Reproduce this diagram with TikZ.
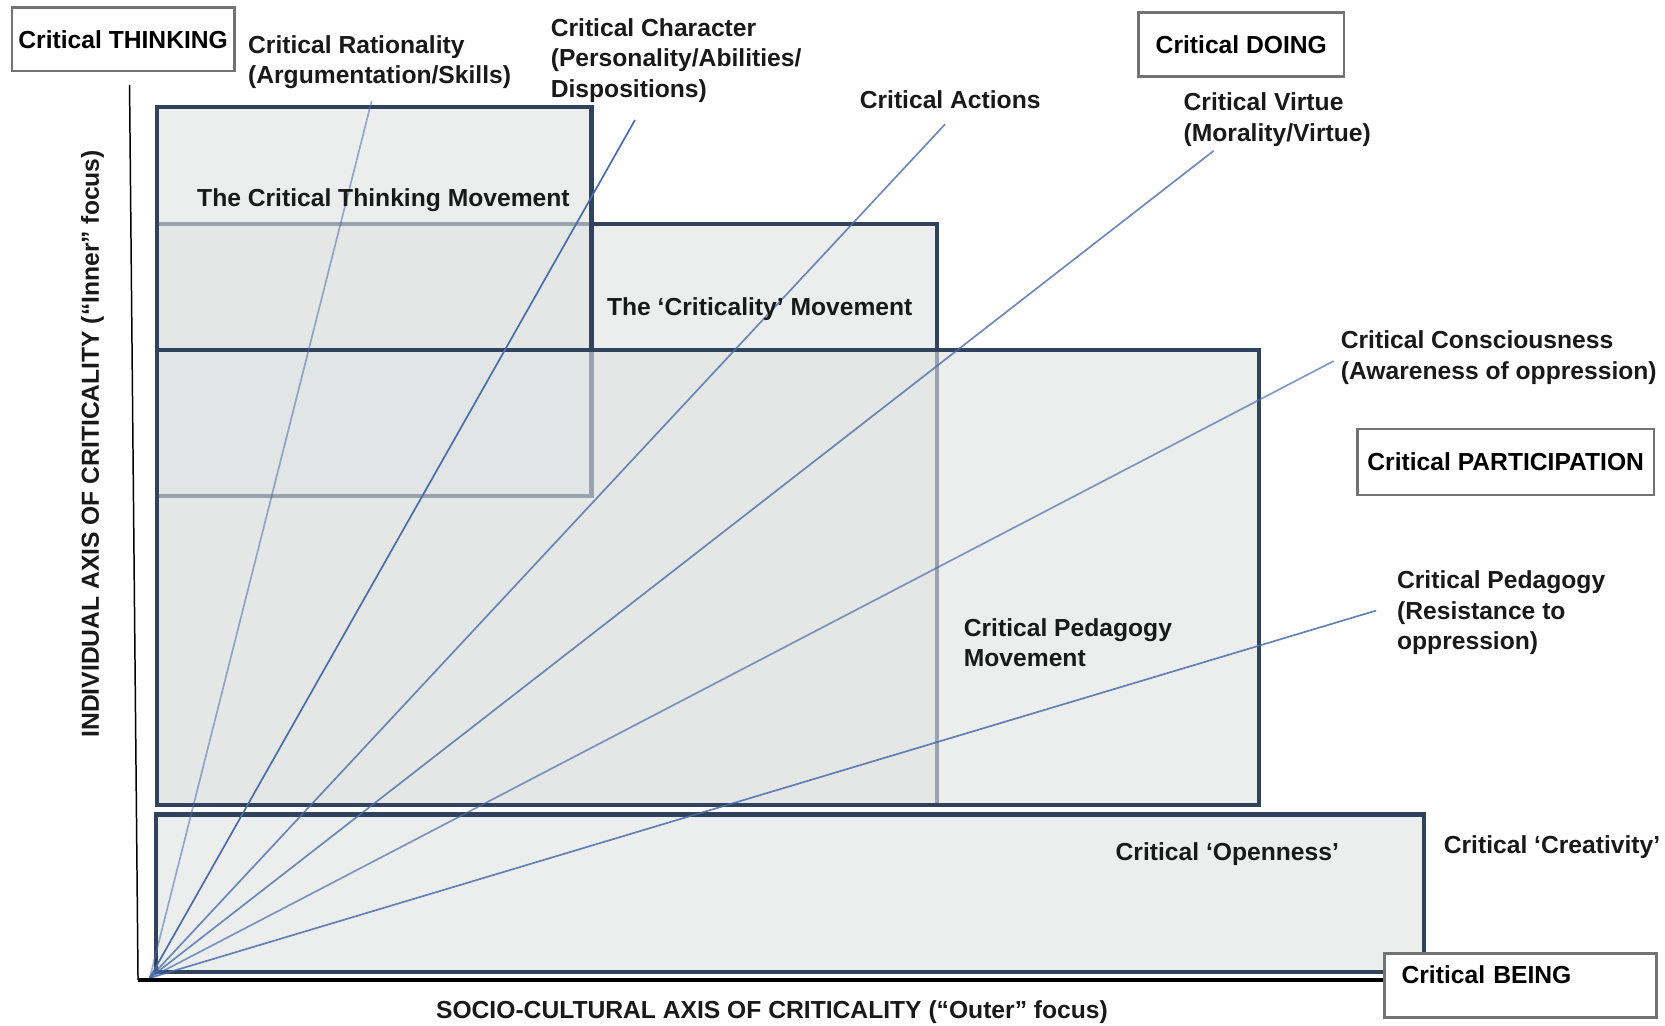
\documentclass[tikz,border=0pt]{standalone}
\usepackage{fontspec}
\setmainfont{Liberation Sans}
\definecolor{edgeblue}{RGB}{48,66,92}
\definecolor{boxfill}{RGB}{224,227,227}
\definecolor{rayblue}{RGB}{72,108,172}
\begin{document}
\begin{tikzpicture}[x=0.01cm, y=-0.01cm,
labeltext/.style={anchor=north west, inner sep=0pt, align=left, text=black!90, font=\fontsize{6.6}{8.1}\selectfont\bfseries},
cornerbox/.style={draw=black!55, fill=white, line width=0.7pt, minimum height=0.6cm, inner sep=0.06cm, font=\fontsize{6.6}{8.1}\selectfont\bfseries},
movement/.style={draw=edgeblue, line width=1.1pt, fill=boxfill, fill opacity=0.6},
ray/.style={rayblue, line width=0.45pt},
]
\useasboundingbox (0,0) rectangle (1568,966);
%Movements
\draw[movement] (148,211) rectangle (882,758);
\draw[movement] (148,101) rectangle (557,467);
\draw[movement] (148,330) rectangle (1186,758);
\draw[movement] (147,767) rectangle (1341,915);
%Rays
\coordinate (o) at (141,921);
\coordinate (ratend) at (350,95);
\coordinate (chaend) at (598,113);
\coordinate (actend) at (890,117);
\coordinate (virend) at (1143,142);
\coordinate (conend) at (1256,340);
\coordinate (pedend) at (1296,575);
\draw[ray, draw opacity=0.55] (o) -- (ratend);
\draw[ray] (o) -- (chaend);
\draw[ray, draw opacity=0.8] (o) -- (actend);
\draw[ray, draw opacity=0.8] (o) -- (virend);
\draw[ray, draw opacity=0.7] (o) -- (conend);
\draw[ray, draw opacity=0.85] (o) -- (pedend);
%Corner boxes
\node[cornerbox, minimum width=2.08cm] at (116,37) (thinking) {Critical THINKING};
\node[cornerbox, minimum width=1.93cm] at (1169,42) (doing) {Critical DOING};
\node[cornerbox, minimum width=2.79cm, minimum height=0.62cm] at (1418,435) (participation) {Critical PARTICIPATION};
\node[cornerbox, minimum width=2.56cm, text width=2.24cm, inner xsep=0.16cm, align=left, text depth=0.2cm] at (1432,928) (being) {Critical BEING};
%Axes
\coordinate (ytop) at (122,80);
\coordinate (corner) at (130,923);
\draw[black, line width=0.4pt] (ytop) -- (corner);
\draw[black, line width=1.2pt] (corner) -- (corner -| being.west);
%Labels
\node[labeltext] at (233,33) (rat) {Critical Rationality\\(Argumentation/Skills)};
\node[labeltext] at (518,17) (cha) {Critical Character\\(Personality/Abilities/\\Dispositions)};
\node[labeltext] at (809,85) (act) {Critical Actions};
\node[labeltext] at (1114,87) (vir) {Critical Virtue\\(Morality/Virtue)};
\node[labeltext] at (1262,311) (con) {Critical Consciousness\\(Awareness of oppression)};
\node[labeltext] at (1315,537) (ped) {Critical Pedagogy\\(Resistance to\\oppression)};
\node[labeltext] at (185,177) (ctm) {The Critical Thinking Movement};
\node[labeltext] at (571,280) (crm) {The ‘Criticality’ Movement};
\node[labeltext] at (907,582) (cpm) {Critical Pedagogy\\Movement};
\node[labeltext] at (1050,793) (ope) {Critical ‘Openness’};
\node[labeltext] at (1359,786) (cre) {Critical ‘Creativity’};
%Axis labels
\node[labeltext, anchor=center] at (727,953) (xlab) {SOCIO-CULTURAL AXIS OF CRITICALITY (“Outer” focus)};
\node[labeltext, anchor=center, rotate=90] at (87,418) (ylab) {INDIVIDUAL AXIS OF CRITICALITY (“Inner” focus)};
\end{tikzpicture}
\end{document}
